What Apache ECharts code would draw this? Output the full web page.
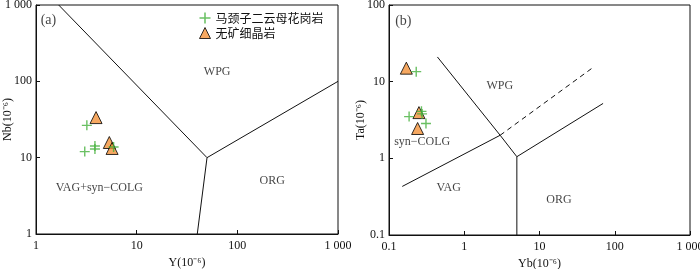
<!DOCTYPE html>
<html><head><meta charset="utf-8">
<script src="https://cdn.jsdelivr.net/npm/echarts@6/dist/echarts.min.js"></script>
<style>html,body{margin:0;padding:0;background:#fff}#c{width:700px;height:269px}</style>
</head><body><div id="c"></div>
<script>
// ---- data (a) Nb–Y ----
const aGranite = [[3.2, 26.5], [3.05, 12], [3.85, 14.2], [3.85, 13], [5.9, 13.8]];
const aAplite = [[3.95, 33.5], [5.35, 15.8], [5.7, 13.2]];
const aLineWPG = [[1.68, 1000], [50, 10]];
const aLineORG = [[50, 10], [1000, 100]];
const aLineVAG = [[40, 1], [50, 10]];
const aPanel = [{name: '(a)', value: [1.33, 625]}];
const aLabels = [
  {name: 'WPG', value: [63, 135]},
  {name: 'VAG+syn\u2212COLG', value: [4.26, 4.0]},
  {name: 'ORG', value: [222, 4.95]}
];
// ---- data (b) Ta–Yb ----
const bGranite = [[0.23, 13.5], [0.185, 3.5], [0.27, 4.1], [0.275, 3.8], [0.31, 2.85]];
const bAplite = [[0.17, 15], [0.25, 3.95], [0.24, 2.45]];
const bLineSyn = [[0.15, 0.43], [3, 2]];
const bLineDash = [[3, 2], [50, 15]];
const bLineWPG = [[0.44, 21], [3, 2], [5, 1.05]];
const bLineORG = [[5, 1.05], [70, 5.2]];
const bLineVert = [[5, 0.1], [5, 1.05]];
const bPanel = [{name: '(b)', value: [0.155, 62]}];
const bLabels = [
  {name: 'WPG', value: [2.97, 8.87]},
  {name: 'syn\u2212COLG', value: [0.276, 1.65]},
  {name: 'VAG', value: [0.62, 0.415]},
  {name: 'ORG', value: [18.1, 0.29]}
];
const seriesNames = ['马颈子二云母花岗岩', '无矿细晶岩'];

const serif = '"Liberation Serif", "Times New Roman", serif';
const cjk = '"Noto Sans CJK SC", sans-serif';
const crossPath = 'path://M4.3,0H5.7V4.3H10V5.7H5.7V10H4.3V5.7H0V4.3H4.3Z';
const green = '#45b03c';
const orange = '#f4923a';
const ink = '#111';

function fmt(v) {
  if (v >= 1000) return '1 000';
  if (v < 1) return '0.1';
  return String(Math.round(v));
}
function xAxis(gi, min, max, name) {
  return {
    type: 'log', logBase: 10, gridIndex: gi, min: min, max: max,
    name: name, nameLocation: 'middle', nameGap: 23, nameMoveOverlap: false,
    nameTextStyle: {fontFamily: serif, fontSize: 12, color: ink},
    axisLine: {lineStyle: {color: ink, width: 1}},
    axisTick: {inside: true, length: 4, lineStyle: {color: ink}},
    minorTick: {show: false},
    splitLine: {show: false},
    axisLabel: {fontFamily: serif, fontSize: 12, color: ink, margin: 6, formatter: fmt, showMinLabel: true, showMaxLabel: true, hideOverlap: false}
  };
}
function yAxis(gi, min, max, name) {
  return {
    type: 'log', logBase: 10, gridIndex: gi, min: min, max: max,
    name: name, nameLocation: 'middle', nameGap: 22, nameRotate: 90, nameMoveOverlap: false,
    nameTextStyle: {fontFamily: serif, fontSize: 12, color: ink},
    axisLine: {lineStyle: {color: ink, width: 1}},
    axisTick: {inside: true, length: 4, lineStyle: {color: ink}},
    splitLine: {show: false},
    axisLabel: {fontFamily: serif, fontSize: 12, color: ink, margin: 4, formatter: fmt, showMinLabel: true, showMaxLabel: true, hideOverlap: false}
  };
}
function lineSeries(gi, data, dashed) {
  return {
    type: 'line', xAxisIndex: gi, yAxisIndex: gi, data: data, symbol: 'none',
    silent: true, animation: false,
    lineStyle: {color: ink, width: 1, type: dashed ? [5, 4] : 'solid'}
  };
}
function labelSeries(gi, data, size) {
  return {
    type: 'scatter', xAxisIndex: gi, yAxisIndex: gi, data: data,
    symbolSize: 0, silent: true, animation: false,
    label: {show: true, position: 'inside', formatter: p => p.name,
      fontFamily: serif, fontSize: size, color: ink}
  };
}
function pts(gi, data, kind) {
  const isCross = kind === 0;
  return {
    name: seriesNames[kind], type: 'scatter', xAxisIndex: gi, yAxisIndex: gi,
    data: data, animation: false,
    symbol: isCross ? crossPath : 'triangle',
    symbolSize: isCross ? 10 : 12,
    itemStyle: isCross ? {color: green} : {color: orange, borderColor: '#000', borderWidth: 1},
    z: isCross ? 4 : 3
  };
}

const chart = echarts.init(document.getElementById('c'), null, {renderer: 'canvas'});
chart.setOption({
  animation: false,
  backgroundColor: '#fff',
  grid: [
    {left: 36, top: 5, width: 302, height: 229, outerBoundsMode: 'none', containLabel: false, show: true, borderColor: ink, borderWidth: 1, backgroundColor: 'transparent'},
    {left: 389, top: 5, width: 301, height: 230, outerBoundsMode: 'none', containLabel: false, show: true, borderColor: ink, borderWidth: 1, backgroundColor: 'transparent'}
  ],
  xAxis: [xAxis(0, 1, 1000, 'Y(10\u207B\u2076)'), xAxis(1, 0.1, 1000, 'Yb(10\u207B\u2076)')],
  yAxis: [yAxis(0, 1, 1000, 'Nb(10\u207B\u2076)'), yAxis(1, 0.1, 100, 'Ta(10\u207B\u2076)')],
  legend: {
    orient: 'vertical', left: 199, top: 12, itemWidth: 11, itemHeight: 11, itemGap: 3, padding: 0,
    textStyle: {fontFamily: cjk, fontSize: 12, color: ink},
    data: [
      {name: seriesNames[0], icon: crossPath, itemStyle: {color: green}},
      {name: seriesNames[1], icon: 'triangle', itemStyle: {color: orange, borderColor: '#000', borderWidth: 1}}
    ]
  },
  series: [
    lineSeries(0, aLineWPG), lineSeries(0, aLineORG), lineSeries(0, aLineVAG),
    lineSeries(1, bLineSyn), lineSeries(1, bLineDash, true), lineSeries(1, bLineWPG),
    lineSeries(1, bLineORG), lineSeries(1, bLineVert),
    labelSeries(0, aLabels, 12), labelSeries(1, bLabels, 12),
    labelSeries(0, aPanel, 14), labelSeries(1, bPanel, 14),
    pts(0, aAplite, 1), pts(0, aGranite, 0),
    pts(1, bAplite, 1), pts(1, bGranite, 0)
  ]
});
</script>
</body></html>
